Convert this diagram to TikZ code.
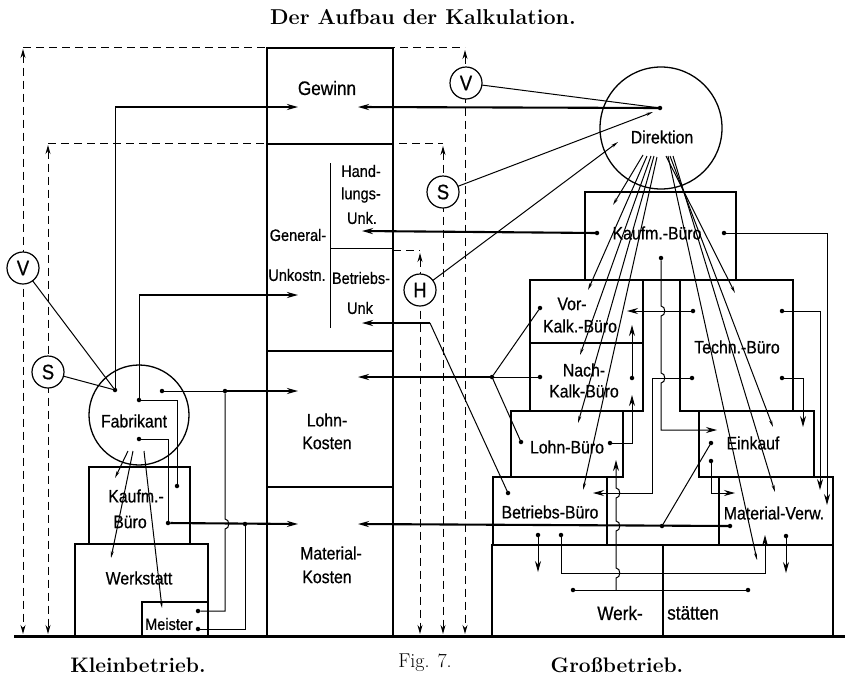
\documentclass[tikz,border=0pt]{standalone}
\usepackage{fontspec}
\newfontfamily\lab[FakeStretch=0.88,FakeBold=0.6]{Liberation Sans}
\usetikzlibrary{arrows.meta}
\newcommand\bbox[6][]{\node[bx,#1,minimum width={#4-#2},minimum height={#5-#3}] (#6) at ({(#2+#4)/2},{(#3+#5)/2}) {};}
\begin{document}
\begin{tikzpicture}[x=1pt,y=-1pt,
  every node/.style={inner sep=0pt, outer sep=0pt},
  bx/.style={draw, line width=1.5pt, rectangle},
  thk/.style={line width=2.6pt},
  conn/.style={line width=1pt},
  main/.style={line width=2.1pt},
  dsh/.style={line width=1pt, dash pattern=on 8pt off 5pt},
  tip/.style={-{Stealth[length=11pt,width=6pt]}},
  stip/.style={-{Stealth[length=7pt,width=3pt]}},
  dtip/.style={{Stealth[length=9pt,width=5pt]}-{Stealth[length=9pt,width=5pt]}},
  dot/.style={circle, fill, minimum size=4.5pt},
  lbl/.style={font=\lab\fontsize{18}{20}\selectfont},
  lbs/.style={font=\lab\fontsize{16.5}{18}\selectfont},
  lbb/.style={font=\lab\fontsize{19.5}{21}\selectfont},
  ring/.style={circle, draw, line width=1.2pt, fill=white, minimum size=32pt, font=\lab\fontsize{21}{22}\selectfont}
]
\useasboundingbox (0,0) rectangle (845,678);

% ---------- titles
\node[font=\fontsize{21.5}{23}\selectfont\bfseries] (title) at (423,17) {Der Aufbau der Kalkulation.};
\node[font=\fontsize{21}{23}\selectfont\bfseries] (klein) at (138,665) {Kleinbetrieb.};
\node[font=\fontsize{20}{22}\selectfont] (fig) at (425,663) {Fig. 7.};
\node[font=\fontsize{21}{23}\selectfont\bfseries] (gross) at (617,665) {Großbetrieb.};

% ---------- dashed measuring lines
\coordinate (tl1) at (23,47); \coordinate (tl2) at (48,143);
\coordinate (tr1) at (465,47); \coordinate (tr2) at (443,143);
\coordinate (tr3) at (420,250); \coordinate (hs) at (393,250);
\coordinate (bas) at (0,634);
\draw[dsh] (tl1) -- (tr1);
\draw[dsh] (tl2) -- (tr2);
\draw[dsh] (hs) -- (tr3);
\draw[dsh,dtip] ([yshift=-2pt]tl1) -- (tl1 |- bas);
\draw[dsh,dtip] ([yshift=-2pt]tl2) -- (tl2 |- bas);
\draw[dsh,dtip] ([yshift=-3pt]tr1) -- (tr1 |- bas);
\draw[dsh,dtip] ([yshift=-3pt]tr2) -- (tr2 |- bas);
\draw[dsh,dtip] ([yshift=-3pt]tr3) -- (tr3 |- bas);

% ---------- central column
\bbox[thk]{267}{48}{393}{144}{gew}
\bbox[thk]{267}{144}{393}{351}{gen}
\bbox[thk]{267}{351}{393}{487}{lohnK}
\bbox[thk]{267}{487}{393}{636}{matK}
\draw[conn] (330,163) -- (330,328);
\draw[conn] (330,248) -- (393,248);
\node[lbb] (tGew) at (327,88) {Gewinn};
\node[lbs] (tH1) at (361,171) {Hand-};
\node[lbs] (tH2) at (361,195) {lungs-};
\node[lbs] (tH3) at (362,218) {Unk.};
\node[lbs] (tG1) at (298,235) {General-};
\node[lbs] (tG2) at (297,275) {Unkostn.};
\node[lbs] (tB1) at (361,278) {Betriebs-};
\node[lbs] (tB2) at (360,308) {Unk};
\node[lbl] (tL1) at (327,420) {Lohn-};
\node[lbl] (tL2) at (327,443) {Kosten};
\node[lbl] (tM1) at (331,553) {Material-};
\node[lbl] (tM2) at (327,577) {Kosten};

% arrow tips into the column
\coordinate (gwL) at (298,107); \coordinate (gwR) at (358,107);
\coordinate (guL) at (298,295);
\coordinate (huR) at (362,231); \coordinate (buR) at (362,323);
\coordinate (lkL) at (298,391); \coordinate (lkR) at (358,377);
\coordinate (mkL) at (298,524); \coordinate (mkR) at (358,524);

% ---------- Kleinbetrieb
\bbox{89}{467}{190}{544}{kaufmL}
\bbox{75}{544}{208}{636}{werk}
\bbox{142}{602}{208}{636}{meister}
\node[circle, draw, line width=1.3pt, minimum size=100pt] (fab) at (139,415) {};
\node[lbl] (tFab) at (134,421) {Fabrikant};
\node[lbl] (tK1) at (136,496) {Kaufm.-};
\node[lbl] (tK2) at (130,522) {Büro};
\node[lbl] (tW) at (139,578) {Werkstatt};
\node[lbs] (tMe) at (169,624) {Meister};

\node[dot] (fA) at (115,390) {};
\node[dot] (fB) at (139,400) {};
\node[dot] (fC) at (162,391) {};
\node[dot] (fD) at (139,439) {};
\node[dot] (kA) at (177,486) {};
\node[dot] (kB) at (168,523) {};
\node[dot] (mA) at (198,611) {};
\node[dot] (mB) at (198,629) {};
\node[dot] (jL) at (225,391) {};
\node[dot] (jM) at (245,524) {};

\draw[conn] (fA) -- (fA |- gwL);
\draw[main,tip] (fA |- gwL) -- (gwL);
\draw[conn] (fB) -- (fB |- guL);
\draw[main,tip] (fB |- guL) -- (guL);
\draw[conn] (fB) -| (kA);
\draw[conn] (fC) -- (jL);
\draw[main,tip] (jL) -- (lkL);
\draw[conn] (jL) -- (225,519) .. controls (230,519) and (230,529) .. (225,529) |- (mA);
\draw[conn] (fD) -| (kB);
\draw[main,tip] (kB) -- (mkL);
\draw[conn] (jM) |- (mB);

\coordinate (fr1) at (128,451); \coordinate (fr1e) at (115,478);
\coordinate (fr2) at (133,451); \coordinate (fr2e) at (111,558);
\coordinate (fr3) at (144,451); \coordinate (fr3e) at (162,608);
\draw[conn,stip] (fr1) -- (fr1e);
\draw[conn,stip] (fr2) -- (fr2e);
\draw[conn,stip] (fr3) -- (fr3e);

\node[ring] (VL) at (23,268) {V};
\node[ring] (SL) at (48,372) {S};
\draw[conn] (VL) -- (fA);
\draw[conn] (SL) -- (fA);

% ---------- Grossbetrieb boxes
\bbox{585}{192}{736}{280}{kaufmR}
\bbox{530}{280}{643}{343}{vork}
\bbox{530}{343}{643}{411}{nachk}
\bbox{680}{280}{793}{411}{techn}
\bbox{511}{411}{623}{477}{lohnb}
\bbox{493}{477}{607}{545}{betr}
\bbox{699}{411}{814}{477}{eink}
\bbox{719}{477}{833}{545}{matv}
\bbox{492}{545}{833}{636}{werkst}
\draw[bx] (663,545) -- (663,636);
\node[circle, draw, line width=1.3pt, fill=white, minimum size=122pt] (dir) at (661,128) {};

\node[lbl] (tDir) at (662,137) {Direktion};
\node[lbl] (tKR) at (657,233) {Kaufm.-Büro};
\node[lbl] (tV1) at (572,304) {Vor-};
\node[lbl] (tV2) at (580,326) {Kalk.-Büro};
\node[lbl] (tN1) at (584,370) {Nach-};
\node[lbl] (tN2) at (584,391) {Kalk-Büro};
\node[lbl] (tT) at (737,347) {Techn.-Büro};
\node[lbl] (tLB) at (567,447) {Lohn-Büro};
\node[lbl] (tE) at (753,443) {Einkauf};
\node[lbl] (tBB) at (550,512) {Betriebs-Büro};
\node[lbl] (tMV) at (774,513) {Material-Verw.};
\node[lbb] (tW1) at (620,613) {Werk-};
\node[lbb] (tW2) at (693,613) {stätten};

% dots
\node[dot] (dG) at (660,108) {};
\node[dot] (kfA) at (597,233) {};
\node[dot] (kfB) at (724,233) {};
\node[dot] (kfC) at (661,258) {};
\node[dot] (vkA) at (540,308) {};
\node[dot] (nkA) at (540,377) {};
\node[dot] (nkB) at (632,378) {};
\node[dot] (lbA) at (521,442) {};
\node[dot] (lbB) at (610,443) {};
\node[dot] (tA) at (693,311) {};
\node[dot] (tB) at (782,311) {};
\node[dot] (tC) at (692,378) {};
\node[dot] (tD) at (782,378) {};
\node[dot] (bbA) at (508,493) {};
\node[dot] (bbB) at (538,535) {};
\node[dot] (bbC) at (561,535) {};
\node[dot] (eA) at (711,443) {};
\node[dot] (eB) at (711,461) {};
\node[dot] (mvA) at (730,526) {};
\node[dot] (mvB) at (786,536) {};
\node[dot] (jR) at (492,377) {};
\node[dot] (jMR) at (662,526) {};
\node[dot] (wsL) at (573,590) {};
\node[dot] (wsR) at (748,590) {};

% main lines into the column
\draw[main,tip] (dG) -- (gwR);
\draw[main,tip] (kfA) -- (huR);
\coordinate (bk) at (430,323);
\draw[conn] (bbA) -- (bk);
\draw[main,tip] (bk) -- (buR);
\draw[main,tip] (jR) -- (lkR);
\draw[conn] (jR) -- (vkA);
\draw[conn] (jR) -- (nkA);
\draw[conn] (jR) -- (lbA);
\draw[main,tip] (mvA) -- (mkR);
\draw[conn] (jMR) -- (eA);

% control circles
\node[ring] (VR) at (466,83) {V};
\node[ring] (SR) at (443,192) {S};
\node[ring] (HR) at (420,290) {H};
\coordinate (hEnd) at (618,142);
\coordinate (sEnd) at (653,112);
\draw[conn] (VR) -- (dG);
\draw[conn,stip] (SR) -- (sEnd);
\draw[conn,stip] (HR) -- (hEnd);

% right-hand routing
\coordinate (a1) at (827,505);
\draw[conn,tip] (kfB) -| (a1);
\coordinate (a2) at (820,490);
\draw[conn,tip] (tB) -| (a2);
\coordinate (a3) at (803,427);
\draw[conn,tip] (tD) -| (a3);
\coordinate (a4) at (717,430);
\draw[conn,tip] (kfC) -- (661,306) .. controls (666,306) and (666,316) .. (661,316)
   -- (661,373) .. controls (666,373) and (666,383) .. (661,383) |- (a4);
\coordinate (a5) at (627,311);
\draw[conn,tip] (tA) -- (a5);
\coordinate (a6) at (593,493);
\draw[conn,tip] (tC) -| (652,493) -- (a6);
\coordinate (a7) at (632,325);
\draw[conn,tip] (nkB) -- (a7);
\coordinate (a8) at (632,395);
\draw[conn,tip] (lbB) -| (a8);
\coordinate (a9) at (616,460);
\draw[conn] (wsL) -- (wsR);
\draw[conn,tip] (616,590) -- (616,578) .. controls (621,578) and (621,568) .. (616,568)
   -- (616,531) .. controls (621,531) and (621,521) .. (616,521)
   -- (616,498) .. controls (621,498) and (621,488) .. (616,488) -- (a9);
\coordinate (a10) at (538,572);
\draw[conn,tip] (bbB) -- (a10);
\coordinate (a11) at (765,535);
\draw[conn,tip] (bbC) |- (765,573) -- (a11);
\coordinate (a12) at (786,573);
\draw[conn,tip] (mvB) -- (a12);
\coordinate (a13) at (735,493);
\draw[conn,tip] (eB) |- (a13);

% rays from Direktion
\draw[conn,stip] (643,155) -- (613,205);
\draw[conn,stip] (647,156) -- (588,290);
\draw[conn,stip] (651,156) -- (580,355);
\draw[conn,stip] (654,156) -- (578,423);
\draw[conn,stip] (657,157) -- (583,490);
\draw[conn,stip] (666,156) -- (735,293);
\draw[conn,stip] (668,156) -- (757,560);
\draw[conn,stip] (670,156) -- (773,427);
\draw[conn,stip] (673,156) -- (775,492);

% ground line
\coordinate (g0) at (14,636); \coordinate (g1) at (845,636);
\draw[line width=3pt] (g0) -- (g1);
\end{tikzpicture}
\end{document}
